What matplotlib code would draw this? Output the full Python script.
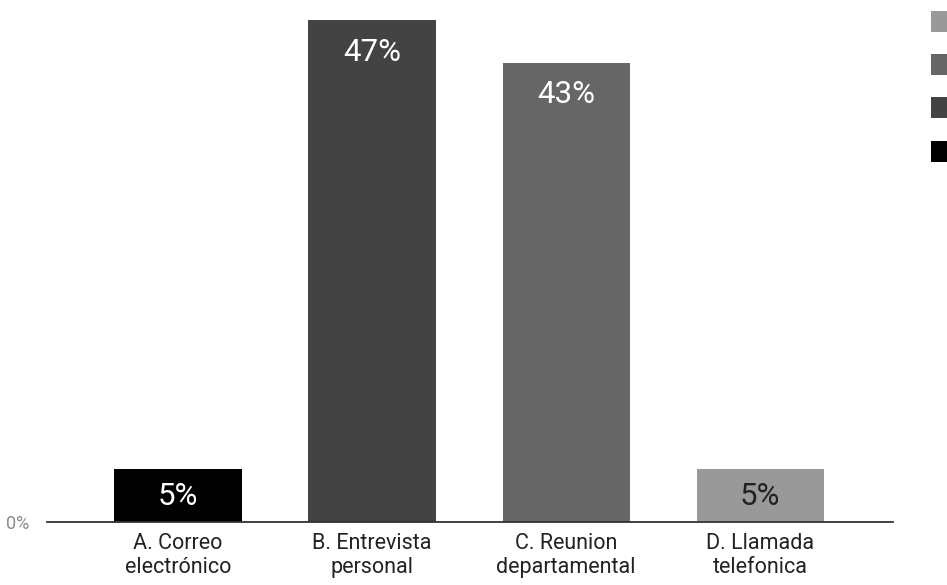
import matplotlib
matplotlib.use("Agg")
import matplotlib.pyplot as plt

plt.rcParams['font.family'] = ['Roboto', 'DejaVu Sans']

categories = ["A. Correo\nelectrónico", "B. Entrevista\npersonal",
              "C. Reunion\ndepartamental", "D. Llamada\ntelefonica"]
values = [5, 47, 43, 5]
bar_colors = ["#000000", "#434343", "#666666", "#999999"]
label_colors = ["#ffffff", "#ffffff", "#ffffff", "#222222"]

fig = plt.figure(figsize=(9.47, 5.85), dpi=100)
W, H = 947, 585
# axes box in pixels: x 47..893, y 20(=47%)..522(=0%)
ax = fig.add_axes([47 / W, (H - 522) / H, (893 - 47) / W, (522 - 20) / H])

x = list(range(len(categories)))
bars = ax.bar(x, values, width=0.655, color=bar_colors, zorder=2)

ax.set_xlim(-0.675, 3.685)
ax.set_ylim(0, 47)

for xi, v, c in zip(x, values, label_colors):
    y = v / 2 - 0.15 if v < 10 else v - 3.0
    ax.text(xi, y, f"{v}%", ha="center", va="center", color=c,
            fontsize=22.5, zorder=3)

for side in ["top", "right", "left"]:
    ax.spines[side].set_visible(False)
ax.spines["bottom"].set_color("#333333")
ax.spines["bottom"].set_linewidth(1.3)
ax.spines["bottom"].set_zorder(4)

ax.set_xticks(x)
ax.set_xticklabels(categories, fontsize=15.5, color="#222222", linespacing=1.18)
ax.tick_params(axis="x", length=0, pad=8)
ax.set_yticks([0])
ax.set_yticklabels(["0%"], fontsize=13, color="#8c8c8c")
ax.tick_params(axis="y", length=0, pad=13)

# series legend (swatches only), listed from last to first
handles = list(bars)[::-1]
fig.legend(handles, [""] * len(handles), loc="upper left",
           bbox_to_anchor=(931 / W, 1 - 11 / H), frameon=False,
           fontsize=10, borderpad=0, borderaxespad=0,
           handlelength=1.51, handleheight=1.95, labelspacing=1.6,
           handletextpad=0.4)

fig.savefig("out.png", dpi=100)
